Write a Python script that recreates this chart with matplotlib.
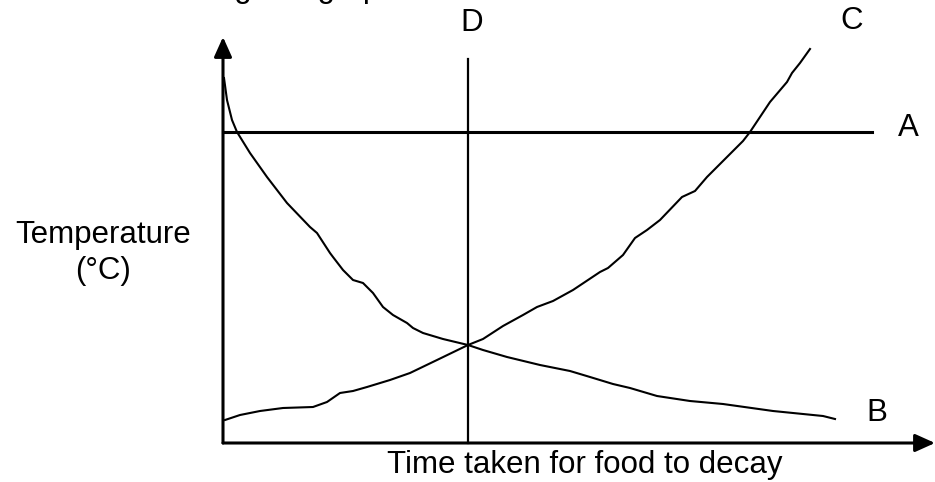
import matplotlib
matplotlib.use('Agg')
from matplotlib import pyplot as plt

plt.rcParams['font.family'] = ['Liberation Sans', 'DejaVu Sans']

# units: arbitrary time / temperature (origin at the corner of the axes)
b_time = [1, 4, 9, 14, 27, 44, 64, 87, 94, 107, 110, 120, 130, 140, 150, 160, 170, 184,
          190, 200, 220, 245, 260, 284, 317, 347, 367, 390, 407, 434, 467, 500, 550, 600, 612]
b_temp = [365, 343, 323, 311, 290, 266, 240, 216, 210, 190, 186, 173, 163, 160, 150, 136, 128, 120,
          115, 110, 104, 98, 93, 86, 78, 72, 66, 59, 55, 47, 42, 39, 32, 27, 24]

c_time = [2, 17, 37, 60, 90, 104, 117, 130, 144, 167, 187, 214, 245, 260, 280, 300, 314, 330,
          350, 377, 385, 400, 412, 424, 437, 459, 472, 484, 504, 520, 527, 547, 564, 569, 577, 587]
c_temp = [23, 28, 32, 35, 36, 41, 50, 52, 56, 63, 70, 83, 98, 104, 117, 128, 136, 142,
          153, 171, 175, 188, 205, 213, 223, 246, 252, 266, 286, 302, 311, 341, 361, 370, 380, 394]

a_temp = 311      # line A
a_end = 649
d_time = 245      # line D
d_top = 384
x_max = 712
y_max = 406

fig = plt.figure(figsize=(9.35, 4.82), dpi=100)
ax = fig.add_axes([223 / 935, 39 / 482, 712 / 935, 406 / 482])
ax.set_xlim(0, x_max)
ax.set_ylim(0, y_max)
ax.axis('off')

fs = 22.5
arrow = dict(arrowstyle='-|>,head_length=0.6,head_width=0.27', lw=2.2, color='black',
             mutation_scale=20, shrinkA=0, shrinkB=0)
ax.annotate('', xy=(0, y_max), xytext=(0, 0), arrowprops=arrow, annotation_clip=False)
ax.annotate('', xy=(x_max, 0), xytext=(0, 0), arrowprops=arrow, annotation_clip=False)

ax.plot([0, a_end], [a_temp, a_temp], color='black', lw=2.2, clip_on=False)
ax.plot([d_time, d_time], [0, d_top], color='black', lw=1.6, clip_on=False)
ax.plot(b_time, b_temp, color='black', lw=1.5, clip_on=False)
ax.plot(c_time, c_temp, color='black', lw=1.5, clip_on=False)

ax.text(685, 315, 'A', fontsize=fs, ha='center', va='center')
ax.text(654, 30, 'B', fontsize=fs, ha='center', va='center')
ax.text(629, 422, 'C', fontsize=fs, ha='center', va='center', clip_on=False)
ax.text(249, 420, 'D', fontsize=fs, ha='center', va='center', clip_on=False)

ax.text(-120, 190, 'Temperature\n(°C)', fontsize=fs, ha='center', va='center',
        linespacing=1.3, multialignment='center')
ax.text(362, -30, 'Time taken for food to decay', fontsize=fs, ha='center', va='baseline')
# heading above the chart, mostly cut off by the top edge as in the source
ax.text(-51, 445.5, 'Using this graph below', fontsize=fs, ha='left', va='baseline')

fig.savefig('out.png', dpi=100)
